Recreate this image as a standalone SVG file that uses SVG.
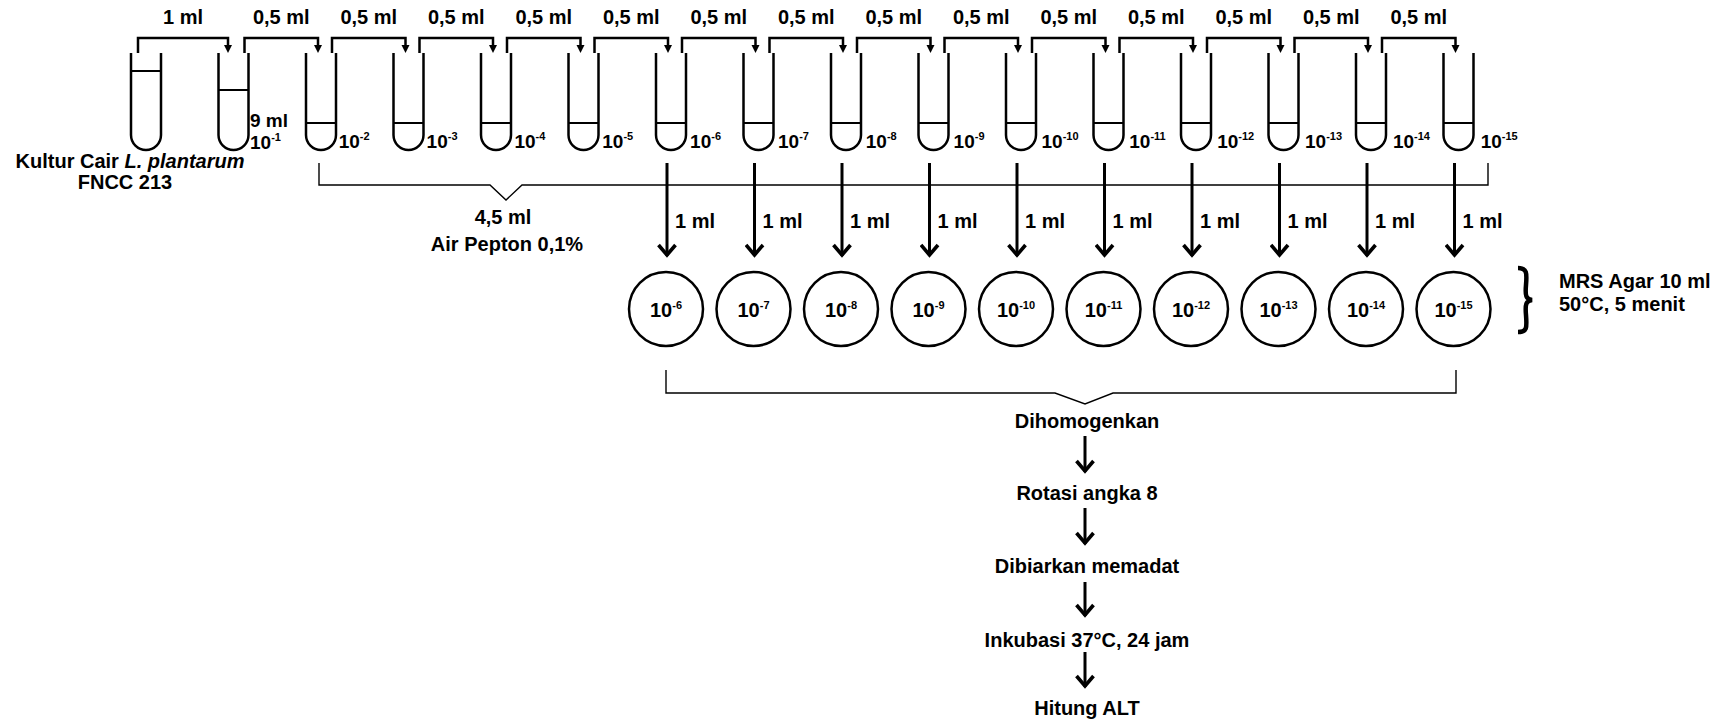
<svg xmlns="http://www.w3.org/2000/svg" width="1722" height="722" viewBox="0 0 1722 722">
<style>
text{font-family:"Liberation Sans",Arial,sans-serif;font-weight:bold;font-size:20px;fill:#000}
.lbl{font-size:19px}
.sup{font-size:11px}
.tube{fill:none;stroke:#000;stroke-width:2.5}
.liq{stroke:#000;stroke-width:2}
.plate{fill:none;stroke:#000;stroke-width:2.5}
.brk{fill:none;stroke:#000;stroke-width:2.5}
.thin{fill:none;stroke:#000;stroke-width:1.4}
.arr{fill:none;stroke:#000;stroke-width:3;marker-end:url(#chev)}
.tri{fill:#000}
.mid{text-anchor:middle}
</style>
<defs>
<marker id="chev" viewBox="-14 -10 16 20" refX="0" refY="0" markerWidth="16" markerHeight="20" markerUnits="userSpaceOnUse" orient="auto"><path d="M-11,-8.5 L-1,0 L-11,8.5" fill="none" stroke="#000" stroke-width="3.6"/></marker>
<path id="tb" d="M0,53 V135 A15,15 0 0 0 30,135 V53"/>
</defs>

<g id="tubes">
<g id="tube0"><use href="#tb" class="tube" x="131"/><path class="liq" d="M131,71 H161"/></g>
<g id="tube1"><use href="#tb" class="tube" x="218.5"/><path class="liq" d="M218.5,90 H248.5"/><text class="lbl" x="250" y="127">9 ml</text><text class="lbl" x="250" y="149">10<tspan class="sup" dy="-8">-1</tspan></text></g>
<g id="tube2"><use href="#tb" class="tube" x="306"/><path class="liq" d="M306,123 H336"/><text class="lbl" x="338.7" y="148">10<tspan class="sup" dy="-8">-2</tspan></text></g>
<g id="tube3"><use href="#tb" class="tube" x="393.5"/><path class="liq" d="M393.5,123 H423.5"/><text class="lbl" x="426.6" y="148">10<tspan class="sup" dy="-8">-3</tspan></text></g>
<g id="tube4"><use href="#tb" class="tube" x="481"/><path class="liq" d="M481,123 H511"/><text class="lbl" x="514.4" y="148">10<tspan class="sup" dy="-8">-4</tspan></text></g>
<g id="tube5"><use href="#tb" class="tube" x="568.5"/><path class="liq" d="M568.5,123 H598.5"/><text class="lbl" x="602.3" y="148">10<tspan class="sup" dy="-8">-5</tspan></text></g>
<g id="tube6"><use href="#tb" class="tube" x="656"/><path class="liq" d="M656,123 H686"/><text class="lbl" x="690.1" y="148">10<tspan class="sup" dy="-8">-6</tspan></text></g>
<g id="tube7"><use href="#tb" class="tube" x="743.5"/><path class="liq" d="M743.5,123 H773.5"/><text class="lbl" x="778" y="148">10<tspan class="sup" dy="-8">-7</tspan></text></g>
<g id="tube8"><use href="#tb" class="tube" x="831"/><path class="liq" d="M831,123 H861"/><text class="lbl" x="865.8" y="148">10<tspan class="sup" dy="-8">-8</tspan></text></g>
<g id="tube9"><use href="#tb" class="tube" x="918.5"/><path class="liq" d="M918.5,123 H948.5"/><text class="lbl" x="953.6" y="148">10<tspan class="sup" dy="-8">-9</tspan></text></g>
<g id="tube10"><use href="#tb" class="tube" x="1006"/><path class="liq" d="M1006,123 H1036"/><text class="lbl" x="1041.5" y="148">10<tspan class="sup" dy="-8">-10</tspan></text></g>
<g id="tube11"><use href="#tb" class="tube" x="1093.5"/><path class="liq" d="M1093.5,123 H1123.5"/><text class="lbl" x="1129.3" y="148">10<tspan class="sup" dy="-8">-11</tspan></text></g>
<g id="tube12"><use href="#tb" class="tube" x="1181"/><path class="liq" d="M1181,123 H1211"/><text class="lbl" x="1217.2" y="148">10<tspan class="sup" dy="-8">-12</tspan></text></g>
<g id="tube13"><use href="#tb" class="tube" x="1268.5"/><path class="liq" d="M1268.5,123 H1298.5"/><text class="lbl" x="1305" y="148">10<tspan class="sup" dy="-8">-13</tspan></text></g>
<g id="tube14"><use href="#tb" class="tube" x="1356"/><path class="liq" d="M1356,123 H1386"/><text class="lbl" x="1392.9" y="148">10<tspan class="sup" dy="-8">-14</tspan></text></g>
<g id="tube15"><use href="#tb" class="tube" x="1443.5"/><path class="liq" d="M1443.5,123 H1473.5"/><text class="lbl" x="1480.7" y="148">10<tspan class="sup" dy="-8">-15</tspan></text></g>
</g>

<g id="culture-label"><text class="mid" x="130" y="168">Kultur Cair <tspan font-style="italic">L. plantarum</tspan></text><text class="mid" x="125" y="189">FNCC 213</text></g>

<g id="connectors">
<g id="transfers">
<path class="brk" d="M138,53 V38 H228 V46"/><path class="tri" d="M224,45 H232 L228,53 Z"/>
<path class="brk" d="M244.5,53 V38 H318 V46"/><path class="tri" d="M314,45 H322 L318,53 Z"/>
<path class="brk" d="M332,53 V38 H405.5 V46"/><path class="tri" d="M401.5,45 H409.5 L405.5,53 Z"/>
<path class="brk" d="M419.5,53 V38 H493 V46"/><path class="tri" d="M489,45 H497 L493,53 Z"/>
<path class="brk" d="M507,53 V38 H580.5 V46"/><path class="tri" d="M576.5,45 H584.5 L580.5,53 Z"/>
<path class="brk" d="M594.5,53 V38 H668 V46"/><path class="tri" d="M664,45 H672 L668,53 Z"/>
<path class="brk" d="M682,53 V38 H755.5 V46"/><path class="tri" d="M751.5,45 H759.5 L755.5,53 Z"/>
<path class="brk" d="M769.5,53 V38 H843 V46"/><path class="tri" d="M839,45 H847 L843,53 Z"/>
<path class="brk" d="M857,53 V38 H930.5 V46"/><path class="tri" d="M926.5,45 H934.5 L930.5,53 Z"/>
<path class="brk" d="M944.5,53 V38 H1018 V46"/><path class="tri" d="M1014,45 H1022 L1018,53 Z"/>
<path class="brk" d="M1032,53 V38 H1105.5 V46"/><path class="tri" d="M1101.5,45 H1109.5 L1105.5,53 Z"/>
<path class="brk" d="M1119.5,53 V38 H1193 V46"/><path class="tri" d="M1189,45 H1197 L1193,53 Z"/>
<path class="brk" d="M1207,53 V38 H1280.5 V46"/><path class="tri" d="M1276.5,45 H1284.5 L1280.5,53 Z"/>
<path class="brk" d="M1294.5,53 V38 H1368 V46"/><path class="tri" d="M1364,45 H1372 L1368,53 Z"/>
<path class="brk" d="M1382,53 V38 H1455.5 V46"/><path class="tri" d="M1451.5,45 H1459.5 L1455.5,53 Z"/>
<text class="mid" x="183" y="24">1 ml</text>
<text class="mid" x="281.3" y="24">0,5 ml</text>
<text class="mid" x="368.8" y="24">0,5 ml</text>
<text class="mid" x="456.3" y="24">0,5 ml</text>
<text class="mid" x="543.8" y="24">0,5 ml</text>
<text class="mid" x="631.3" y="24">0,5 ml</text>
<text class="mid" x="718.8" y="24">0,5 ml</text>
<text class="mid" x="806.3" y="24">0,5 ml</text>
<text class="mid" x="893.8" y="24">0,5 ml</text>
<text class="mid" x="981.3" y="24">0,5 ml</text>
<text class="mid" x="1068.8" y="24">0,5 ml</text>
<text class="mid" x="1156.3" y="24">0,5 ml</text>
<text class="mid" x="1243.8" y="24">0,5 ml</text>
<text class="mid" x="1331.3" y="24">0,5 ml</text>
<text class="mid" x="1418.8" y="24">0,5 ml</text>
</g>
<g id="diluent-bracket">
<path class="thin" d="M319,163 V185 H490 L506,200 L522,185 H1488 V163"/>
<text class="mid" x="503" y="224">4,5 ml</text>
<text class="mid" x="507" y="251">Air Pepton 0,1%</text>
</g>
<g id="plating">
<path class="arr" d="M667,163 V256"/><text x="675" y="228">1 ml</text>
<path class="arr" d="M754.5,163 V256"/><text x="762.5" y="228">1 ml</text>
<path class="arr" d="M842,163 V256"/><text x="850" y="228">1 ml</text>
<path class="arr" d="M929.5,163 V256"/><text x="937.5" y="228">1 ml</text>
<path class="arr" d="M1017,163 V256"/><text x="1025" y="228">1 ml</text>
<path class="arr" d="M1104.5,163 V256"/><text x="1112.5" y="228">1 ml</text>
<path class="arr" d="M1192,163 V256"/><text x="1200" y="228">1 ml</text>
<path class="arr" d="M1279.5,163 V256"/><text x="1287.5" y="228">1 ml</text>
<path class="arr" d="M1367,163 V256"/><text x="1375" y="228">1 ml</text>
<path class="arr" d="M1454.5,163 V256"/><text x="1462.5" y="228">1 ml</text>
</g>
<g id="plates-bracket">
<path class="thin" d="M666,370 V393 H1055 L1085,404 L1113,393 H1456 V370"/>
</g>
<g id="flow-arrows">
<path class="arr" d="M1085,436 V472"/>
<path class="arr" d="M1085,508 V544"/>
<path class="arr" d="M1085,582 V616"/>
<path class="arr" d="M1085,652 V687"/>
</g>
</g>

<g id="plates">
<g id="plate6"><circle class="plate" cx="666" cy="309" r="37"/><text class="mid" x="666" y="317">10<tspan class="sup" dy="-8">-6</tspan></text></g>
<g id="plate7"><circle class="plate" cx="753.5" cy="309" r="37"/><text class="mid" x="753.5" y="317">10<tspan class="sup" dy="-8">-7</tspan></text></g>
<g id="plate8"><circle class="plate" cx="841" cy="309" r="37"/><text class="mid" x="841" y="317">10<tspan class="sup" dy="-8">-8</tspan></text></g>
<g id="plate9"><circle class="plate" cx="928.5" cy="309" r="37"/><text class="mid" x="928.5" y="317">10<tspan class="sup" dy="-8">-9</tspan></text></g>
<g id="plate10"><circle class="plate" cx="1016" cy="309" r="37"/><text class="mid" x="1016" y="317">10<tspan class="sup" dy="-8">-10</tspan></text></g>
<g id="plate11"><circle class="plate" cx="1103.5" cy="309" r="37"/><text class="mid" x="1103.5" y="317">10<tspan class="sup" dy="-8">-11</tspan></text></g>
<g id="plate12"><circle class="plate" cx="1191" cy="309" r="37"/><text class="mid" x="1191" y="317">10<tspan class="sup" dy="-8">-12</tspan></text></g>
<g id="plate13"><circle class="plate" cx="1278.5" cy="309" r="37"/><text class="mid" x="1278.5" y="317">10<tspan class="sup" dy="-8">-13</tspan></text></g>
<g id="plate14"><circle class="plate" cx="1366" cy="309" r="37"/><text class="mid" x="1366" y="317">10<tspan class="sup" dy="-8">-14</tspan></text></g>
<g id="plate15"><circle class="plate" cx="1453.5" cy="309" r="37"/><text class="mid" x="1453.5" y="317">10<tspan class="sup" dy="-8">-15</tspan></text></g>
</g>

<g id="mrs-agar">
<path d="M1518,268 C1527,268 1527,273 1526,285 C1525,296 1526,299 1532,300 C1526,301 1525,304 1526,315 C1527,328 1527,332 1518,332" fill="none" stroke="#000" stroke-width="4.5"/>
<text x="1559" y="288">MRS Agar 10 ml</text>
<text x="1559" y="311">50°C, 5 menit</text>
</g>

<g id="steps">
<g id="step1"><text class="mid" x="1087" y="428">Dihomogenkan</text></g>
<g id="step2"><text class="mid" x="1087" y="500">Rotasi angka 8</text></g>
<g id="step3"><text class="mid" x="1087" y="573">Dibiarkan memadat</text></g>
<g id="step4"><text class="mid" x="1087" y="647">Inkubasi 37°C, 24 jam</text></g>
<g id="step5"><text class="mid" x="1087" y="715">Hitung ALT</text></g>
</g>
</svg>
